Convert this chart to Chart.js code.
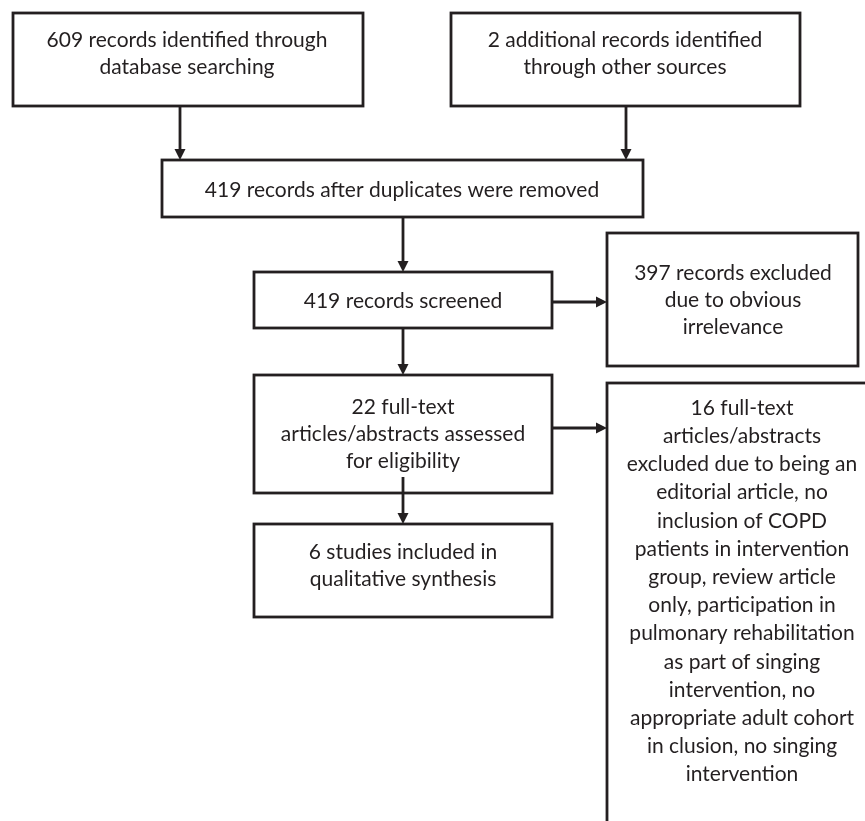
<!DOCTYPE html>
<html>
<head>
<meta charset="utf-8">
<script src="https://cdn.jsdelivr.net/npm/chart.js@4.4.1/dist/chart.umd.min.js"></script>
<style>
  html, body { margin: 0; padding: 0; background: #ffffff; }
  #wrap { width: 865px; height: 821px; }
</style>
</head>
<body>
<div id="wrap"><canvas id="c" width="865" height="821"></canvas></div>
<script>
// ---- data ----
const stageIds = ['database', 'other', 'dedup', 'screened', 'excludedScreen', 'fulltext', 'excludedFull', 'included'];
const stageCounts = [609, 2, 419, 419, 397, 22, 16, 6];
const stageText = [
  ['{n} records identified through', 'database searching'],
  ['{n} additional records identified', 'through other sources'],
  ['{n} records after duplicates were removed'],
  ['{n} records screened'],
  ['{n} records excluded', 'due to obvious', 'irrelevance'],
  ['{n} full-text', 'articles/abstracts assessed', 'for eligibility'],
  ['{n} full-text', 'articles/abstracts', 'excluded due to being an', 'editorial article, no',
   'inclusion of COPD', 'patients in intervention', 'group, review article',
   'only, participation in', 'pulmonary rehabilitation', 'as part of singing',
   'intervention, no', 'appropriate adult cohort', 'in clusion, no singing', 'intervention'],
  ['{n} studies included in', 'qualitative synthesis']
];
const flowLinks = [
  ['database', 'dedup'],
  ['other', 'dedup'],
  ['dedup', 'screened'],
  ['screened', 'excludedScreen'],
  ['screened', 'fulltext'],
  ['fulltext', 'excludedFull'],
  ['fulltext', 'included']
];

// ---- layout (positions in diagram units) ----
const boxLayout = {
  database:       { x0: 13,  y0: 13,  x1: 363, y1: 106, tx: 187, ty: 40,  lh: 27 },
  other:          { x0: 451, y0: 13,  x1: 800, y1: 106, tx: 625, ty: 40,  lh: 27 },
  dedup:          { x0: 162, y0: 160, x1: 643, y1: 217, tx: 402, ty: 190, lh: 27 },
  screened:       { x0: 254, y0: 272, x1: 552, y1: 328, tx: 403, ty: 301, lh: 27 },
  excludedScreen: { x0: 607, y0: 233, x1: 858, y1: 366, tx: 733, ty: 273, lh: 27 },
  fulltext:       { x0: 254, y0: 375, x1: 552, y1: 493, tx: 403, ty: 407, lh: 27 },
  excludedFull:   { x0: 607, y0: 383, x1: 880, y1: 840, tx: 742, ty: 408, lh: 28.2 },
  included:       { x0: 254, y0: 524, x1: 552, y1: 617, tx: 403, ty: 552, lh: 27 }
};
const linkLayout = [
  { x0: 180, y0: 106, x1: 180, y1: 160 },
  { x0: 626, y0: 106, x1: 626, y1: 160 },
  { x0: 403, y0: 217, x1: 403, y1: 272 },
  { x0: 552, y0: 302, x1: 607, y1: 302 },
  { x0: 403, y0: 328, x1: 403, y1: 375 },
  { x0: 552, y0: 428, x1: 607, y1: 428 },
  { x0: 403, y0: 477, x1: 403, y1: 524 }
];

const INK = '#231f20';
const FONT = '21px Lato, "Open Sans", sans-serif';

const flowPlugin = {
  id: 'flow',
  afterDraw(chart) {
    const ctx = chart.ctx;
    const sx = chart.scales.x, sy = chart.scales.y;
    const px = v => sx.getPixelForValue(v);
    const py = v => sy.getPixelForValue(v);
    ctx.save();
    ctx.strokeStyle = INK;
    ctx.fillStyle = INK;
    ctx.lineWidth = 2.8;
    // boxes
    stageIds.forEach((id, i) => {
      const b = boxLayout[id];
      ctx.strokeRect(px(b.x0), py(b.y0), px(b.x1) - px(b.x0), py(b.y1) - py(b.y0));
      ctx.font = FONT;
      ctx.textAlign = 'center';
      ctx.textBaseline = 'middle';
      stageText[i].forEach((line, k) => {
        const t = line.replace('{n}', String(stageCounts[i]));
        ctx.fillText(t, px(b.tx), py(b.ty + k * b.lh));
      });
    });
    // arrows
    flowLinks.forEach((lnk, i) => {
      const a = linkLayout[i];
      const x0 = px(a.x0), y0 = py(a.y0), x1 = px(a.x1), y1 = py(a.y1);
      const ang = Math.atan2(y1 - y0, x1 - x0);
      const hl = 11, hw = 5.5;
      const bx = x1 - Math.cos(ang) * hl, by = y1 - Math.sin(ang) * hl;
      ctx.beginPath();
      ctx.moveTo(x0, y0);
      ctx.lineTo(bx, by);
      ctx.stroke();
      ctx.beginPath();
      ctx.moveTo(x1, y1);
      ctx.lineTo(bx - Math.sin(ang) * hw, by + Math.cos(ang) * hw);
      ctx.lineTo(bx + Math.sin(ang) * hw, by - Math.cos(ang) * hw);
      ctx.closePath();
      ctx.fill();
    });
    ctx.restore();
  }
};

new Chart(document.getElementById('c'), {
  type: 'scatter',
  data: { datasets: [{ data: [], pointRadius: 0 }] },
  options: {
    responsive: false,
    animation: false,
    layout: { padding: 0 },
    plugins: { legend: { display: false }, tooltip: { enabled: false } },
    scales: {
      x: { type: 'linear', min: 0, max: 865, display: false },
      y: { type: 'linear', min: 0, max: 821, reverse: true, display: false }
    }
  },
  plugins: [flowPlugin]
});
</script>
</body>
</html>
